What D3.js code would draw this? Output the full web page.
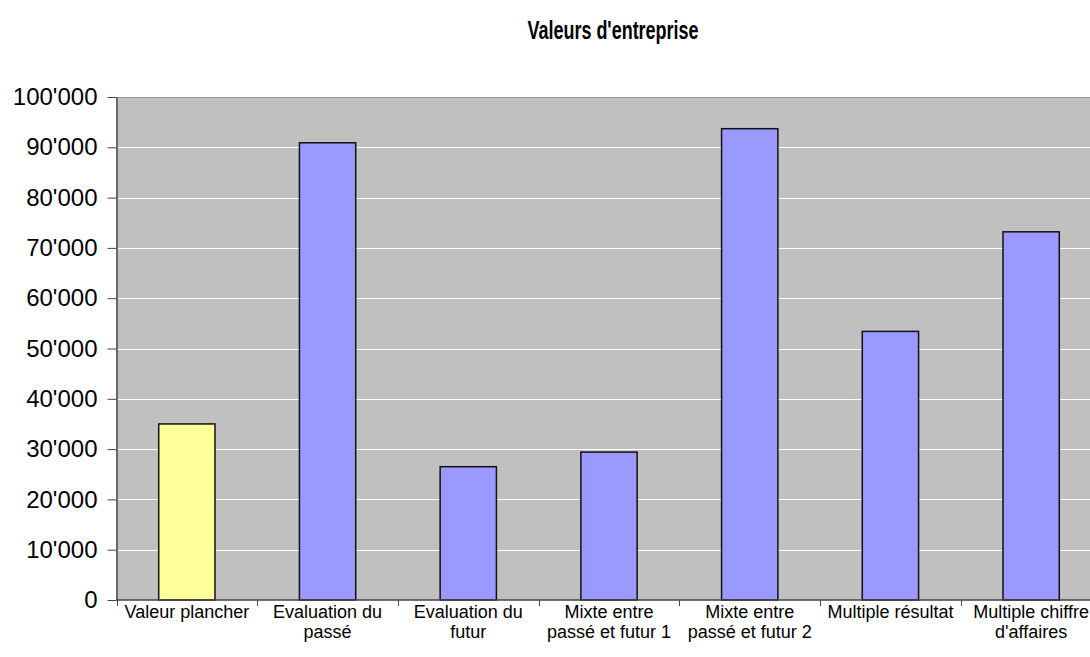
<!DOCTYPE html>
<html>
<head>
<meta charset="utf-8">
<script src="https://cdn.jsdelivr.net/npm/d3@7"></script>
<style>
  html, body { margin: 0; padding: 0; background: #ffffff; }
  svg { display: block; font-family: Arial, "Liberation Sans", sans-serif; }
</style>
</head>
<body>
<svg id="chart" width="1090" height="657"></svg>
<script>
// Company valuation by method
const categories = [
  "Valeur plancher",
  "Evaluation du passé",
  "Evaluation du futur",
  "Mixte entre passé et futur 1",
  "Mixte entre passé et futur 2",
  "Multiple résultat",
  "Multiple chiffre d'affaires"
];
// label lines as they wrap under each bar
const labelLines = [
  ["Valeur plancher"],
  ["Evaluation du", "passé"],
  ["Evaluation du", "futur"],
  ["Mixte entre", "passé et futur 1"],
  ["Mixte entre", "passé et futur 2"],
  ["Multiple résultat"],
  ["Multiple chiffre", "d'affaires"]
];
const values = [35000, 90900, 26500, 29400, 93700, 53400, 73200];
const barColors = ["#ffff99", "#9999ff", "#9999ff", "#9999ff", "#9999ff", "#9999ff", "#9999ff"];
const yTicks = [0, 10000, 20000, 30000, 40000, 50000, 60000, 70000, 80000, 90000, 100000];
const title = "Valeurs d'entreprise";

const svg = d3.select("#chart");
const plot = { left: 116.5, right: 1101.5, top: 97, bottom: 600 };

const x = d3.scaleBand()
  .domain(categories)
  .range([plot.left, plot.right])
  .paddingInner(0.6)
  .paddingOuter(0.3);

const y = d3.scaleLinear()
  .domain([0, 100000])
  .range([plot.bottom, plot.top]);

// thousands separated by an apostrophe
const fmt = v => d3.format(",")(v).replace(/,/g, "'");

// plot background
svg.append("rect")
  .attr("x", plot.left).attr("y", plot.top)
  .attr("width", plot.right - plot.left)
  .attr("height", plot.bottom - plot.top)
  .attr("fill", "#c0c0c0");

// top border
svg.append("line")
  .attr("x1", plot.left).attr("x2", plot.right)
  .attr("y1", plot.top + 0.5).attr("y2", plot.top + 0.5)
  .attr("stroke", "#999999").attr("stroke-width", 1.2);

// horizontal gridlines
svg.append("g")
  .selectAll("line")
  .data(yTicks.filter(t => t > 0 && t < 100000))
  .join("line")
  .attr("x1", plot.left).attr("x2", plot.right)
  .attr("y1", d => Math.round(y(d)) + 0.5)
  .attr("y2", d => Math.round(y(d)) + 0.5)
  .attr("stroke", "#ffffff").attr("stroke-width", 1);

// bars
svg.append("g")
  .selectAll("rect")
  .data(values)
  .join("rect")
  .attr("x", (d, i) => x(categories[i]))
  .attr("y", d => y(d))
  .attr("width", x.bandwidth())
  .attr("height", d => y(0) - y(d))
  .attr("fill", (d, i) => barColors[i])
  .attr("stroke", "#111111")
  .attr("stroke-width", 1.5);

// y axis
const yAxis = d3.axisLeft(y)
  .tickValues(yTicks)
  .tickFormat(fmt)
  .tickSizeInner(9)
  .tickSizeOuter(0)
  .tickPadding(10);

const gy = svg.append("g")
  .attr("transform", `translate(${plot.left},0)`)
  .call(yAxis);
gy.select(".domain").attr("stroke", "#444444").attr("stroke-width", 1.5);
gy.selectAll(".tick line").attr("stroke", "#444444");
gy.selectAll(".tick text")
  .attr("font-size", 24)
  .attr("fill", "#000000")
  .attr("font-family", "Arial, 'Liberation Sans', sans-serif");

// x axis baseline and category separators
svg.append("line")
  .attr("x1", plot.left).attr("x2", plot.right)
  .attr("y1", plot.bottom).attr("y2", plot.bottom)
  .attr("stroke", "#444444").attr("stroke-width", 1.5);

const step = x.step();
svg.append("g")
  .selectAll("line")
  .data(categories)
  .join("line")
  .attr("x1", (d, i) => Math.round(plot.left + i * step) + 0.5)
  .attr("x2", (d, i) => Math.round(plot.left + i * step) + 0.5)
  .attr("y1", plot.bottom)
  .attr("y2", plot.bottom + 6)
  .attr("stroke", "#444444").attr("stroke-width", 1);

// category labels
const lbl = svg.append("g")
  .selectAll("text")
  .data(categories)
  .join("text")
  .attr("text-anchor", "middle")
  .attr("font-size", 18)
  .attr("fill", "#000000")
  .attr("x", d => x(d) + x.bandwidth() / 2)
  .attr("y", 618);
lbl.each(function (d, i) {
  d3.select(this).selectAll("tspan")
    .data(labelLines[i])
    .join("tspan")
    .attr("x", x(d) + x.bandwidth() / 2)
    .attr("dy", (t, j) => j === 0 ? 0 : 20)
    .text(t => t);
});

// title, in a narrow bold face
svg.append("text")
  .attr("transform", "translate(613,39) scale(0.72,1)")
  .attr("text-anchor", "middle")
  .attr("font-size", 25)
  .attr("font-weight", "bold")
  .attr("fill", "#000000")
  .text(title);
</script>
</body>
</html>
